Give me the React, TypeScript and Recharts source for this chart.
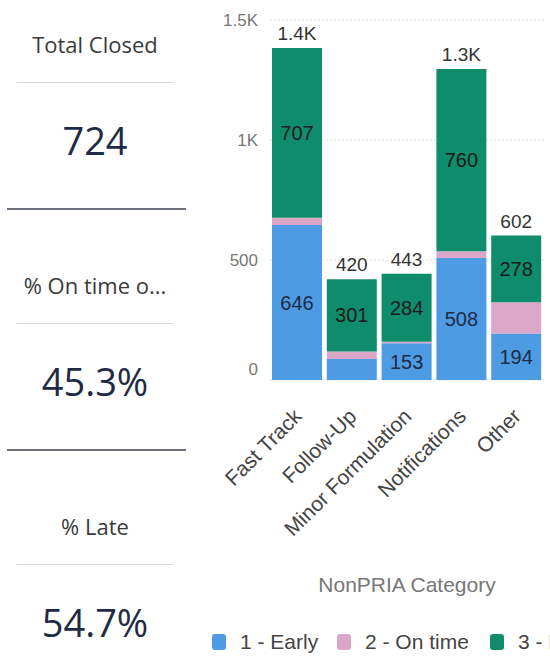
import React from 'react';
import {
  BarChart,
  Bar,
  XAxis,
  YAxis,
  CartesianGrid,
  Legend,
  LabelList,
  Label
} from 'recharts';

// values
const categories = ['Fast Track', 'Follow-Up', 'Minor Formulation', 'Notifications', 'Other'];
const early = [646, 88, 153, 508, 194];
const onTime = [30, 31, 6, 28, 130];
const late = [707, 301, 284, 760, 278];
const yTicks = [0, 500, 1000, 1500];

const kpis = [
  { title: 'Total Closed', value: '724' },
  { title: '% On time o...', value: '45.3%' },
  { title: '% Late', value: '54.7%' },
];

const series = [
  { key: 'early', name: '1 - Early', color: '#4c9be3' },
  { key: 'onTime', name: '2 - On time', color: '#dba6c8' },
  { key: 'late', name: '3 - Late', color: '#0f8c6b' },
];

const data = categories.map((name, i) => ({
  name,
  early: early[i],
  onTime: onTime[i],
  late: late[i],
  total: early[i] + onTime[i] + late[i],
}));

const chartFont = 'Arial, "Liberation Sans", sans-serif';
const cardFont = '"Open Sans", "Noto Sans", sans-serif';

const fmtK = (v: number) => {
  if (v >= 1000) {
    const s = (v / 1000).toFixed(1).replace(/\.0$/, '');
    return s + 'K';
  }
  return String(v);
};

const XTick = (props: any) => {
  const { x, y, payload } = props;
  return (
    <g transform={`translate(${x},${y + 24})`}>
      <text
        x={0}
        y={0}
        dy={8}
        textAnchor="end"
        transform="rotate(-45)"
        fill="#444"
        fontSize={21}
        fontFamily={chartFont}
      >
        {payload.value}
      </text>
    </g>
  );
};

// power bi keeps the "0" label inside the plot, a bit above the baseline
const YTick = (props: any) => {
  const { x, y, payload } = props;
  return (
    <text
      x={x}
      y={payload.value === 0 ? y - 11 : y}
      dy="0.355em"
      textAnchor="end"
      fill="#777"
      fontSize={17}
      fontFamily={chartFont}
    >
      {fmtK(payload.value)}
    </text>
  );
};

const itemWidths = [125, 153];

const LegendContent = () => (
  <div
    style={{
      height: 57,
      display: 'flex',
      alignItems: 'center',
      whiteSpace: 'nowrap',
      paddingLeft: 12,
      paddingTop: 26,
      boxSizing: 'border-box',
      fontFamily: chartFont,
      fontSize: 21,
      color: '#444',
    }}
  >
    {series.map((s, i) => (
      <span
        key={s.key}
        style={{ display: 'inline-flex', alignItems: 'center', flex: 'none', width: itemWidths[i] }}
      >
        <span
          style={{
            display: 'inline-block',
            width: 14,
            height: 16,
            borderRadius: 3,
            background: s.color,
            marginRight: 14,
          }}
        />
        {s.name}
      </span>
    ))}
  </div>
);

const KpiCard: React.FC<{ title: string; value: string; top: number; last?: boolean }> = ({
  title,
  value,
  top,
  last,
}) => (
  <div style={{ position: 'absolute', left: 0, top, width: 192, height: 241 }}>
    <div
      style={{
        position: 'absolute',
        top: 29,
        width: 190,
        textAlign: 'center',
        fontSize: 22,
        lineHeight: '30px',
        color: '#3a3a3a',
        fontFamily: cardFont,
      }}
    >
      {title}
    </div>
    <div style={{ position: 'absolute', top: 82, left: 17, width: 156, height: 1, background: '#d3d7df' }} />
    <div
      style={{
        position: 'absolute',
        top: 114,
        width: 190,
        textAlign: 'center',
        fontSize: 38,
        lineHeight: '52px',
        color: '#1f2a44',
        fontFamily: cardFont,
      }}
    >
      {value}
    </div>
    {!last && (
      <div style={{ position: 'absolute', top: 208, left: 7, width: 179, height: 2, background: '#6b6f7a' }} />
    )}
  </div>
);

const App: React.FC = () => {
  return (
    <div style={{ position: 'relative', width: 550, height: 657, overflow: 'hidden', background: '#fff' }}>
      <style>{`body{margin:0}`}</style>
      {kpis.map((k, i) => (
        <KpiCard key={k.title} title={k.title} value={k.value} top={i * 241} last={i === kpis.length - 1} />
      ))}
      <div style={{ position: 'absolute', left: 200, top: 0 }}>
        <BarChart
          width={350}
          height={657}
          data={data}
          margin={{ top: 20, right: 6, left: 0, bottom: 0 }}
          barSize={50}
        >
          <CartesianGrid vertical={false} stroke="#e2e2e2" strokeDasharray="2 2" />
          <XAxis
            dataKey="name"
            height={220}
            interval={0}
            axisLine={false}
            tickLine={false}
            tick={<XTick />}
          >
            <Label
              value="NonPRIA Category"
              position="insideBottom"
              offset={8}
              fill="#777"
              fontSize={21}
              fontFamily={chartFont}
            />
          </XAxis>
          <YAxis
            width={70}
            domain={[0, 1500]}
            ticks={yTicks}
            axisLine={false}
            tickLine={false}
            tickMargin={6}
            tick={<YTick />}
          />
          <Legend verticalAlign="bottom" align="left" content={<LegendContent />} />
          <Bar dataKey="early" stackId="a" fill={series[0].color} isAnimationActive={false}>
            <LabelList
              dataKey="early"
              position="center"
              fill="#1f2a44"
              fontSize={20}
              fontFamily={chartFont}
              formatter={(v: any) => (v >= 100 ? v : '')}
            />
          </Bar>
          <Bar dataKey="onTime" stackId="a" fill={series[1].color} isAnimationActive={false} />
          <Bar dataKey="late" stackId="a" fill={series[2].color} isAnimationActive={false}>
            <LabelList
              dataKey="late"
              position="center"
              fill="#1a1a1a"
              fontSize={20}
              fontFamily={chartFont}
            />
            <LabelList
              dataKey="total"
              position="top"
              offset={8}
              fill="#333"
              fontSize={19}
              fontFamily={chartFont}
              formatter={(v: any) => fmtK(Number(v))}
            />
          </Bar>
        </BarChart>
      </div>
    </div>
  );
};

export default App;
